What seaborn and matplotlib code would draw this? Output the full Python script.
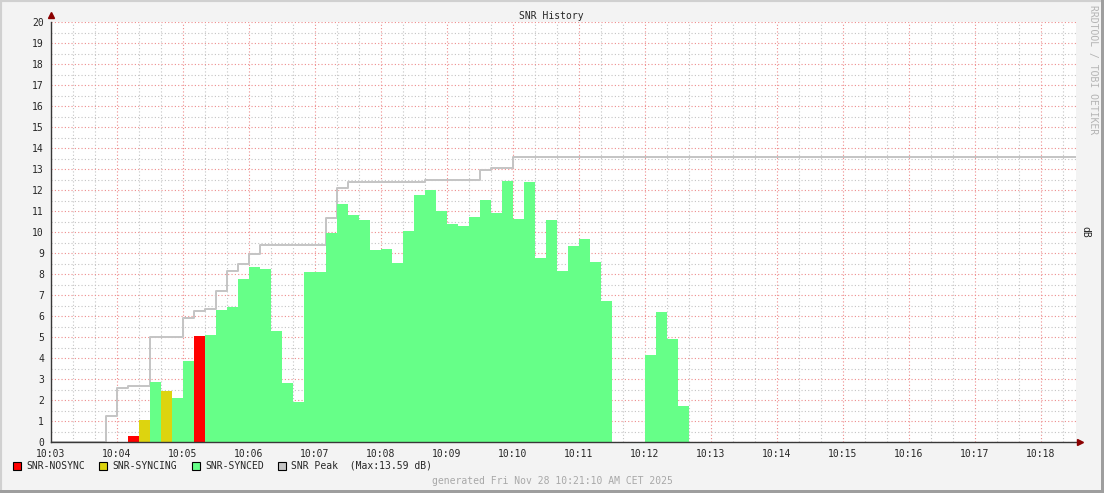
import numpy as np
import pandas as pd
import seaborn as sns
import matplotlib.pyplot as plt
from matplotlib.patches import Rectangle
from matplotlib.ticker import MultipleLocator

# SNR samples, one every 10 s, first one at 10:04:10
snr_start = "10:04:10"
snr_db = [0.29, 1.05, 2.86, 2.43, 2.10, 3.86, 5.05,
          5.10, 6.29, 6.43, 7.76, 8.33, 8.24, 5.29, 2.81, 1.90,
          8.10, 8.10, 9.95, 11.33, 10.81, 10.57, 9.14, 9.19, 8.52, 10.05,
          11.76, 12.00, 11.00, 10.38, 10.29, 10.71, 11.52, 10.90, 12.43, 10.62,
          12.38, 8.76, 10.57, 8.14, 9.33, 9.67, 8.57, 6.71,
          np.nan, np.nan, np.nan,
          4.14, 6.19, 4.90, 1.71]
snr_state = ["NOSYNC", "SYNCING", "SYNCED", "SYNCING", "SYNCED", "SYNCED", "NOSYNC"] + ["SYNCED"] * 44

# peak hold (step line), value changes
peak_time = ["10:03:00", "10:03:50", "10:04:00", "10:04:10", "10:04:30", "10:05:00",
             "10:05:10", "10:05:20", "10:05:30", "10:05:40", "10:05:50", "10:06:00",
             "10:06:10", "10:07:10", "10:07:20", "10:07:30", "10:08:40", "10:09:30",
             "10:09:40", "10:10:00", "10:18:32"]
peak_db = [0.0, 1.24, 2.57, 2.67, 5.00, 5.90,
           6.24, 6.33, 7.19, 8.14, 8.48, 8.95,
           9.38, 10.67, 12.10, 12.38, 12.48, 12.95,
           13.03, 13.59, 13.59]

x_labels = ["10:03", "10:04", "10:05", "10:06", "10:07", "10:08", "10:09", "10:10",
            "10:11", "10:12", "10:13", "10:14", "10:15", "10:16", "10:17", "10:18"]
graph_start = "10:03:00"
graph_end = "10:18:32"

states = ["NOSYNC", "SYNCING", "SYNCED"]
colors = {"NOSYNC": "#ff0000", "SYNCING": "#ddd40f", "SYNCED": "#66ff88"}
peak_color = "#c4c4c4"

t0 = pd.to_timedelta(graph_start)
def secs(s):
    return (pd.to_timedelta(s) - t0).total_seconds()

df = pd.DataFrame({"snr": snr_db, "state": snr_state})
df["t"] = secs(snr_start) + 10 * np.arange(len(df)) + 5
df = df.dropna()

peak = pd.DataFrame({"t": [secs(s) for s in peak_time], "db": peak_db})
t_end = secs(graph_end)

sns.set_style("white")
plt.rcParams['font.family'] = ['DejaVu Sans Mono']

fig = plt.figure(figsize=(11.04, 4.93), dpi=100)
fig.patch.set_facecolor("#f3f3f3")
ax = fig.add_axes([51 / 1104, 51 / 493, (1076 - 51) / 1104, 420 / 493])
ax.set_facecolor("white")

sns.lineplot(data=peak, x="t", y="db", drawstyle="steps-post", color=peak_color,
             linewidth=1.4, zorder=2, ax=ax)
sns.histplot(data=df, x="t", weights="snr", hue="state", hue_order=states,
             palette=colors, binwidth=10, binrange=(0, 600), multiple="stack",
             element="bars", alpha=1, linewidth=0, legend=False, zorder=3, ax=ax)

ax.set_xlim(0, t_end)
ax.set_ylim(0, 20)
ax.set_xlabel("")
ax.set_ylabel("")

ax.xaxis.set_minor_locator(MultipleLocator(20))
ax.yaxis.set_minor_locator(MultipleLocator(0.5))
ax.set_xticks(np.arange(len(x_labels)) * 60)
ax.set_xticklabels(x_labels)
ax.set_yticks(np.arange(0, 21))
ax.tick_params(axis="both", which="major", labelsize=7, length=3, width=0.8,
               color="#404040", direction="out", pad=2)
ax.tick_params(axis="both", which="minor", length=1.5, width=0.6, color="#808080")

ax.set_axisbelow(True)
ax.grid(which="minor", color="#c4c4c4", linestyle=(0, (1, 2)), linewidth=0.8)
ax.grid(which="major", color="#ee8c8c", linestyle=(0, (1, 2)), linewidth=0.8)

for s in ["top", "right"]:
    ax.spines[s].set_visible(False)
for s in ["left", "bottom"]:
    ax.spines[s].set_color("#383838")
    ax.spines[s].set_linewidth(1.0)
    ax.spines[s].set_zorder(5)

ax.plot([0], [20.32], marker="^", color="#8b0000", markersize=4, clip_on=False, zorder=6)
ax.plot([t_end + 4], [0], marker=">", color="#8b0000", markersize=4, clip_on=False, zorder=6)

fig.text(551 / 1104, 1 - 16 / 493, "SNR History", ha="center", va="center", fontsize=7)
fig.text(1093 / 1104, 1 - 5 / 493, "RRDTOOL / TOBI OETIKER", rotation=270,
         ha="center", va="top", fontsize=7, color="#b4b4b4")
fig.text(1085 / 1104, 1 - 232 / 493, "dB", rotation=270, ha="center", va="center",
         fontsize=7)

legend_items = [("SNR-NOSYNC", colors["NOSYNC"], 17),
                ("SNR-SYNCING", colors["SYNCING"], 103),
                ("SNR-SYNCED", colors["SYNCED"], 196),
                ("SNR Peak  (Max:%.2f dB)" % max(peak_db), peak_color, 282)]
ly = 1 - 466 / 493
for label, c, px in legend_items:
    fig.patches.append(Rectangle(((px - 4) / 1104, ly - 4 / 493), 8 / 1104, 8 / 493,
                                 transform=fig.transFigure, facecolor=c,
                                 edgecolor="black", linewidth=0.8))
    fig.text((px + 9) / 1104, ly, label, ha="left", va="center", fontsize=7)

fig.text(552 / 1104, 1 - 481 / 493, "generated Fri Nov 28 10:21:10 AM CET 2025",
         ha="center", va="center", fontsize=7, color="#a8a8a8")

# frame around the canvas
fig.patches.append(Rectangle((0, 0), 1, 1, transform=fig.transFigure, fill=False,
                             edgecolor="#d0d0d0", linewidth=3))
fig.patches.append(Rectangle((0, 0), 1, 3 / 493, transform=fig.transFigure,
                             facecolor="#9e9e9e", edgecolor="none"))
fig.patches.append(Rectangle(((1104 - 3) / 1104, 0), 3 / 1104, 1, transform=fig.transFigure,
                             facecolor="#9e9e9e", edgecolor="none"))

fig.savefig("out.png", dpi=100, facecolor=fig.get_facecolor())
